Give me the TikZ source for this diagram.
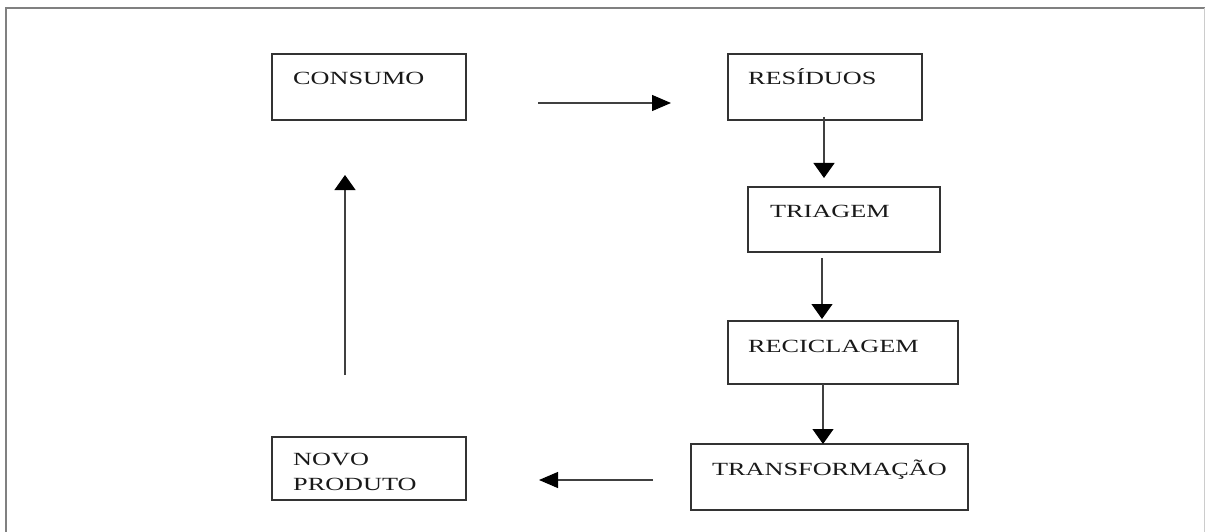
\documentclass[tikz,border=0pt]{standalone}
\usepackage{fontspec}
\setmainfont{Liberation Serif}[FakeStretch=1.41]
\usetikzlibrary{arrows.meta}
\begin{document}
\begin{tikzpicture}[x=1pt,y=-1pt,
  box/.style={draw=black!80,line width=1.3pt,rectangle,inner sep=0pt},
  lbl/.style={anchor=base west,inner sep=0pt,text=black!90,font=\fontsize{18.6}{25}\selectfont},
  varr/.style={draw=black!75,line width=1.1pt,-{Triangle[length=15pt,width=21pt,color=black,fill=black]}},
  harr/.style={draw=black!75,line width=1.1pt,-{Triangle[length=19pt,width=16pt,color=black,fill=black]}},
  frame/.style={draw=black!50,line width=2pt}]
\useasboundingbox (0,0) rectangle (1205,532);
% frame
\draw[frame] (6,533) -- (6,8) -- (1206,8);
\draw[draw=black!20,line width=1pt] (1204,8) -- (1204,533);
% boxes
\node[box,minimum width=194pt,minimum height=66pt] (consumo) at (369,87) {};
\node[box,minimum width=194pt,minimum height=66pt] (residuos) at (825,87) {};
\node[box,minimum width=192pt,minimum height=65pt] (triagem) at (844,219.5) {};
\node[box,minimum width=230pt,minimum height=63pt] (reciclagem) at (843,352.5) {};
\node[box,minimum width=277pt,minimum height=66pt] (transf) at (829.5,477) {};
\node[box,minimum width=194pt,minimum height=63pt] (novo) at (369,468.5) {};
% labels
\node[lbl] (tconsumo) at (293,85) {CONSUMO};
\node[lbl] (tresiduos) at (748,85) {RESÍDUOS};
\node[lbl] (ttriagem) at (770,217) {TRIAGEM};
\node[lbl] (treciclagem) at (748,352) {RECICLAGEM};
\node[lbl] (ttransf) at (712,475) {TRANSFORMAÇÃO};
\node[lbl] (tnovo) at (293,465) {NOVO};
\node[lbl] (tproduto) at (293,490) {PRODUTO};
% connector end points
\coordinate (a1s) at (538,103); \coordinate (a1e) at (671,103);
\coordinate (a2s) at (824,117); \coordinate (a2e) at (824,178);
\coordinate (a3s) at (822,258); \coordinate (a3e) at (822,319);
\coordinate (a4s) at (823,384); \coordinate (a4e) at (823,444);
\coordinate (a5s) at (653,480); \coordinate (a5e) at (539,480);
\coordinate (a6s) at (345,375); \coordinate (a6e) at (345,175);
\draw[harr] (a1s) -- (a1e);
\draw[varr] (a2s) -- (a2e);
\draw[varr] (a3s) -- (a3e);
\draw[varr] (a4s) -- (a4e);
\draw[harr] (a5s) -- (a5e);
\draw[varr] (a6s) -- (a6e);
\end{tikzpicture}
\end{document}
